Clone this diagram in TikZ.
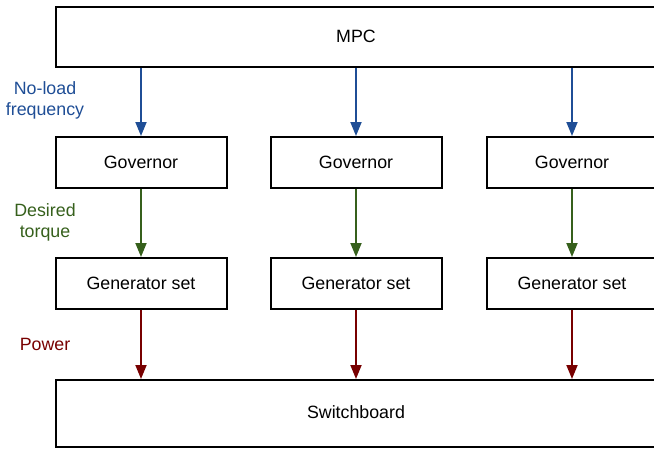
\documentclass[tikz,border=0pt]{standalone}
\usepackage{fontspec}
\setmainfont{Liberation Sans}
\usetikzlibrary{arrows.meta}
\definecolor{cblue}{HTML}{1F4E96}
\definecolor{cgreen}{HTML}{36601C}
\definecolor{cred}{HTML}{780000}
\tikzset{
  box/.style={draw=black, line width=2pt, fill=white, inner sep=0pt, font=\fontsize{17.8}{20}\selectfont},
  flow/.style={line width=1.8pt, -{Triangle[length=14pt,width=11pt]}},
  lab/.style={font=\fontsize{17.8}{21}\selectfont, align=center},
}
\begin{document}
\begin{tikzpicture}[x=1pt,y=-1pt]
\useasboundingbox (0,0) rectangle (654,450);
\node[box, minimum width=620pt, minimum height=60pt, anchor=north west] (mpc) at (55,6) {};
\node[lab] (mpct) at (356,36) {MPC};
\node[box, minimum width=620pt, minimum height=67pt, anchor=north west] (sw) at (55,379) {};
\node[lab] (swt) at (356,412) {Switchboard};
\foreach \i/\x in {1/141,2/356,3/572}{
  \node[box, minimum width=171pt, minimum height=51pt] (gov\i) at (\x,162.5) {Governor};
  \node[box, minimum width=171pt, minimum height=51pt] (gen\i) at (\x,283.5) {Generator set};
  \draw[flow, cblue] (mpc.south -| gov\i) -- (gov\i.north);
  \draw[flow, cgreen] (gov\i.south) -- (gen\i.north);
  \draw[flow, cred] (gen\i.south) -- (sw.north -| gen\i);
}
\node[lab, text=cblue] (l1) at (45,100.5) {No-load\\frequency};
\node[lab, text=cgreen] (l2) at (45,222.5) {Desired\\torque};
\node[lab, text=cred] (l3) at (45,344) {Power};
\end{tikzpicture}
\end{document}
